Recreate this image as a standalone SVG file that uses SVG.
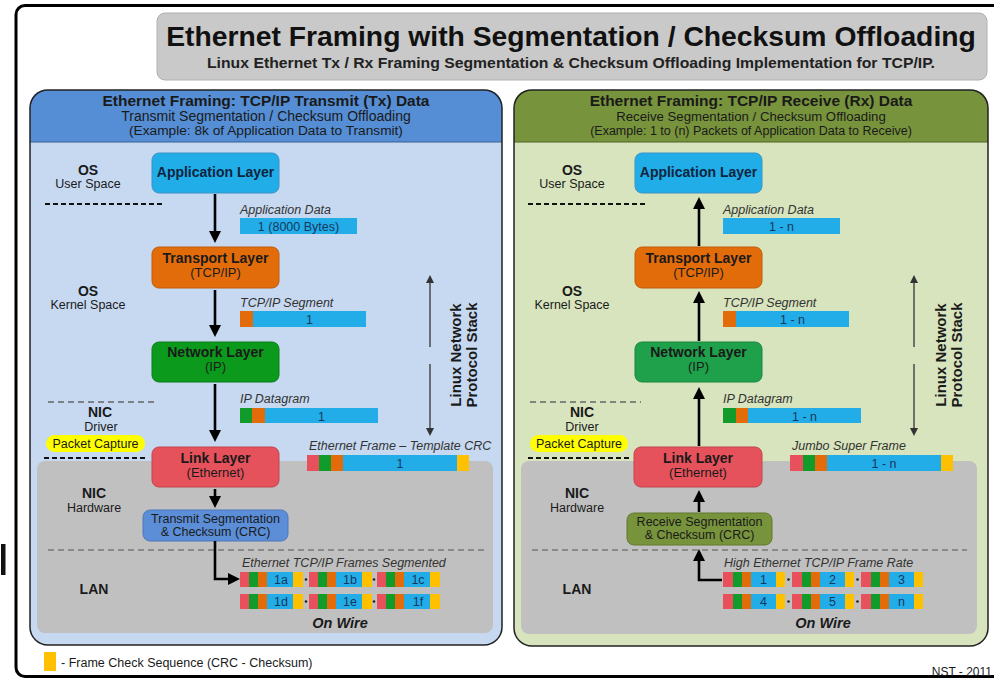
<svg xmlns="http://www.w3.org/2000/svg" xmlns:xlink="http://www.w3.org/1999/xlink" width="994" height="679" viewBox="0 0 994 679">
  <style>
    text { font-family: "Liberation Sans", Arial, sans-serif; fill: #1a1a1a; }
    .title { font-size: 28.3px; font-weight: bold; fill: #111; }
    .sub { font-size: 15.2px; font-weight: bold; fill: #222; }
    .hd1 { font-size: 15.5px; font-weight: bold; }
    .hd2 { font-size: 14px; }
    .hd3 { font-size: 12.5px; }
    .lb { font-size: 14px; font-weight: bold; }
    .ls { font-size: 12.5px; }
    .bx { font-size: 14px; font-weight: bold; }
    .bs { font-size: 13px; }
    .it { font-size: 12.5px; font-style: italic; fill: #333; }
    .bar { font-size: 12.5px; fill: #17375e; }
    .stk { font-size: 15px; font-weight: bold; }
    .wire { font-size: 14.5px; font-weight: bold; font-style: italic; }
    .mid { text-anchor: middle; }
    .cRed { fill: #e8505b; } .cGrn { fill: #119b2b; } .cOrg { fill: #e36c0a; }
    .cBlu { fill: #22ade8; } .cYel { fill: #ffc000; }
    .flow { stroke: #000; stroke-width: 2.6; fill: none; }
    .stack { stroke: #333; stroke-width: 1.3; fill: none; }
    .dashK { stroke: #111; stroke-width: 2; stroke-dasharray: 5 3; }
    .dashG { stroke: #666; stroke-width: 1.5; stroke-dasharray: 6 4; }
    .dashL { stroke: #555; stroke-width: 1; stroke-dasharray: 6 4; }
  </style>
  <defs>
    <marker id="ah" viewBox="0 0 12 12" refX="6" refY="6" markerWidth="12" markerHeight="12" markerUnits="userSpaceOnUse" orient="auto">
      <path d="M0,0 L12,6 L0,12 z" fill="#000"/>
    </marker>
    <marker id="sh" viewBox="0 0 8 8" refX="2" refY="4" markerWidth="8" markerHeight="8" markerUnits="userSpaceOnUse" orient="auto">
      <path d="M0,0 L8,4 L0,8 z" fill="#333"/>
    </marker>
    <!-- one on-wire frame: eth hdr, IP hdr, TCP hdr, payload, FCS -->
    <g id="frL">
      <rect class="cRed" x="0" y="0" width="9" height="15"/>
      <rect class="cGrn" x="9" y="0" width="9" height="15"/>
      <rect class="cOrg" x="18" y="0" width="9" height="15"/>
      <rect class="cBlu" x="27" y="0" width="26" height="15"/>
      <rect class="cYel" x="53" y="0" width="10" height="15"/>
    </g>
    <g id="frR">
      <rect class="cRed" x="0" y="0" width="10" height="15"/>
      <rect class="cGrn" x="10" y="0" width="9" height="15"/>
      <rect class="cOrg" x="19" y="0" width="9" height="15"/>
      <rect class="cBlu" x="28" y="0" width="25" height="15"/>
      <rect class="cYel" x="53" y="0" width="9" height="15"/>
    </g>
  </defs>

  <rect width="994" height="679" fill="#fff"/>
  <!-- outer frame -->
  <rect x="16" y="5.5" width="1000" height="671" rx="9" fill="#fff" stroke="#000" stroke-width="3"/>
  <rect x="1" y="544" width="4.5" height="31" fill="#111"/>

  <!-- title -->
  <g id="title">
    <rect x="157" y="13" width="830" height="67" rx="8" fill="#c9c9c9" stroke="#b0b0b0" stroke-width="1"/>
    <text class="title mid" x="571" y="46">Ethernet Framing with Segmentation / Checksum Offloading</text>
    <text class="sub mid" x="571" y="68" textLength="728" lengthAdjust="spacingAndGlyphs">Linux Ethernet Tx / Rx Framing Segmentation &amp; Checksum Offloading Implementation for TCP/IP.</text>
  </g>

  <!-- ===== Transmit panel ===== -->
  <g id="tx-panel">
    <rect x="30" y="90" width="472" height="555" rx="18" fill="#c6d9f1"/>
    <path d="M30,142 V108 Q30,90 48,90 H484 Q502,90 502,108 V142 Z" fill="#558ed5"/>
    <line x1="30" y1="142" x2="502" y2="142" stroke="#3a5f93" stroke-width="1"/>
    <rect x="37" y="461" width="456" height="172" rx="8" fill="#c0c0c0"/>
    <rect x="30" y="90" width="472" height="555" rx="18" fill="none" stroke="#222" stroke-width="1.5"/>
    <text class="hd1 mid" x="266" y="106">Ethernet Framing: TCP/IP Transmit (Tx) Data</text>
    <text class="hd2 mid" x="266" y="121">Transmit Segmentation / Checksum Offloading</text>
    <text class="hd3 mid" x="266" y="135" style="font-size:13.7px">(Example: 8k of Application Data to Transmit)</text>
  </g>

  <g id="tx-zones">
    <text class="lb mid" x="88" y="175">OS</text>
    <text class="ls mid" x="88" y="188">User Space</text>
    <line class="dashK" x1="45" y1="204" x2="162" y2="204"/>
    <text class="lb mid" x="88" y="296">OS</text>
    <text class="ls mid" x="88" y="309">Kernel Space</text>
    <line class="dashG" x1="48" y1="402" x2="158" y2="402"/>
    <text class="lb mid" x="100" y="417">NIC</text>
    <text class="ls mid" x="101" y="431">Driver</text>
    <rect x="46" y="435" width="99" height="17" rx="8.5" fill="#ffff00"/>
    <text class="ls mid" x="95.5" y="448">Packet Capture</text>
    <line class="dashK" x1="44" y1="458" x2="148" y2="458"/>
    <text class="lb mid" x="94" y="498">NIC</text>
    <text class="ls mid" x="94" y="512">Hardware</text>
    <line class="dashL" x1="48" y1="550" x2="484" y2="550"/>
    <text class="lb mid" x="94" y="594">LAN</text>
  </g>

  <g id="tx-app">
    <rect x="152" y="153" width="127" height="40" rx="7" fill="#20ade8" stroke="#3b93c6" stroke-width="1"/>
    <text class="bx mid" x="215.5" y="177" style="fill:#0f2540">Application Layer</text>
  </g>
  <g id="tx-transport">
    <rect x="152" y="247" width="127" height="41" rx="7" fill="#e36c0a" stroke="#c05a0a" stroke-width="1"/>
    <text class="bx mid" x="215.5" y="263">Transport Layer</text>
    <text class="bs mid" x="215.5" y="277">(TCP/IP)</text>
  </g>
  <g id="tx-network">
    <rect x="152" y="342" width="127" height="40" rx="7" fill="#0b9a1c" stroke="#0a7d18" stroke-width="1"/>
    <text class="bx mid" x="215.5" y="357">Network Layer</text>
    <text class="bs mid" x="215.5" y="371">(IP)</text>
  </g>
  <g id="tx-link">
    <rect x="152" y="447" width="127" height="40" rx="7" fill="#e6525b" stroke="#c1444c" stroke-width="1"/>
    <text class="bx mid" x="215.5" y="463">Link Layer</text>
    <text class="bs mid" x="215.5" y="477">(Ethernet)</text>
  </g>
  <g id="tx-offload">
    <rect x="143" y="510" width="145" height="31" rx="7" fill="#5b8ed7" stroke="#4a79bd" stroke-width="1"/>
    <text class="ls mid" x="215.5" y="523">Transmit Segmentation</text>
    <text class="ls mid" x="215.5" y="536">&amp; Checksum (CRC)</text>
  </g>

  <g id="tx-data">
    <text class="it" x="240" y="214">Application Data</text>
    <rect class="cBlu" x="240" y="218" width="117" height="16"/>
    <text class="bar mid" x="298.5" y="231">1 (8000 Bytes)</text>

    <text class="it" x="240" y="307">TCP/IP Segment</text>
    <rect class="cOrg" x="240" y="311" width="13" height="16"/>
    <rect class="cBlu" x="253" y="311" width="113" height="16"/>
    <text class="bar mid" x="309.5" y="324">1</text>

    <text class="it" x="240" y="403">IP Datagram</text>
    <rect class="cGrn" x="240" y="408" width="12" height="15"/>
    <rect class="cOrg" x="252" y="408" width="13" height="15"/>
    <rect class="cBlu" x="265" y="408" width="113" height="15"/>
    <text class="bar mid" x="321.5" y="420.5">1</text>

    <text class="it" x="309" y="450">Ethernet Frame – Template CRC</text>
    <rect class="cRed" x="307" y="455" width="12" height="16"/>
    <rect class="cGrn" x="319" y="455" width="12" height="16"/>
    <rect class="cOrg" x="331" y="455" width="12" height="16"/>
    <rect class="cBlu" x="343" y="455" width="114" height="16"/>
    <rect class="cYel" x="457" y="455" width="12" height="16"/>
    <text class="bar mid" x="400" y="468">1</text>
  </g>

  <g id="tx-wire">
    <text class="it" x="242" y="567">Ethernet TCP/IP Frames Segmented</text>
    <use xlink:href="#frL" x="240" y="572"/>
    <use xlink:href="#frL" x="309" y="572"/>
    <use xlink:href="#frL" x="377" y="572"/>
    <use xlink:href="#frL" x="240" y="594"/>
    <use xlink:href="#frL" x="309" y="594"/>
    <use xlink:href="#frL" x="377" y="594"/>
    <circle cx="306" cy="579.5" r="1.3" fill="#222"/>
    <circle cx="374" cy="579.5" r="1.3" fill="#222"/>
    <circle cx="306" cy="601.5" r="1.3" fill="#222"/>
    <circle cx="374" cy="601.5" r="1.3" fill="#222"/>
    <text class="bar mid" x="281" y="584">1a</text>
    <text class="bar mid" x="350" y="584">1b</text>
    <text class="bar mid" x="418" y="584">1c</text>
    <text class="bar mid" x="281" y="606">1d</text>
    <text class="bar mid" x="350" y="606">1e</text>
    <text class="bar mid" x="418" y="606">1f</text>
    <text class="wire mid" x="340" y="628">On Wire</text>
  </g>

  <g id="tx-stack">
    <text class="stk mid" transform="translate(461,355) rotate(-90)">Linux Network</text>
    <text class="stk mid" transform="translate(477,355) rotate(-90)">Protocol Stack</text>
  </g>

  <!-- ===== Receive panel ===== -->
  <g id="rx-panel">
    <rect x="514" y="90" width="474" height="556" rx="18" fill="#d7e4bd"/>
    <path d="M514,142 V108 Q514,90 532,90 H970 Q988,90 988,108 V142 Z" fill="#77933c"/>
    <line x1="514" y1="142" x2="988" y2="142" stroke="#4f6428" stroke-width="1"/>
    <rect x="521" y="461" width="456" height="173" rx="8" fill="#c0c0c0"/>
    <rect x="514" y="90" width="474" height="556" rx="18" fill="none" stroke="#222" stroke-width="1.5"/>
    <text class="hd1 mid" x="751" y="106">Ethernet Framing: TCP/IP Receive (Rx) Data</text>
    <text class="hd2 mid" x="751" y="121" style="font-size:13.2px">Receive Segmentation / Checksum Offloading</text>
    <text class="hd3 mid" x="751" y="135">(Example: 1 to (n) Packets of Application Data to Receive)</text>
  </g>

  <g id="rx-zones">
    <text class="lb mid" x="572" y="175">OS</text>
    <text class="ls mid" x="572" y="188">User Space</text>
    <line class="dashK" x1="528" y1="204" x2="645" y2="204"/>
    <text class="lb mid" x="572" y="296">OS</text>
    <text class="ls mid" x="572" y="309">Kernel Space</text>
    <line class="dashG" x1="530" y1="402" x2="641" y2="402"/>
    <text class="lb mid" x="582" y="417">NIC</text>
    <text class="ls mid" x="582" y="431">Driver</text>
    <rect x="530" y="435" width="98" height="17" rx="8.5" fill="#ffff00"/>
    <text class="ls mid" x="579" y="448">Packet Capture</text>
    <line class="dashK" x1="528" y1="458" x2="632" y2="458"/>
    <text class="lb mid" x="577" y="498">NIC</text>
    <text class="ls mid" x="577" y="512">Hardware</text>
    <line class="dashL" x1="532" y1="550" x2="967" y2="550"/>
    <text class="lb mid" x="577" y="594">LAN</text>
  </g>

  <g id="rx-app">
    <rect x="635" y="153" width="127" height="40" rx="7" fill="#20ade8" stroke="#3b93c6" stroke-width="1"/>
    <text class="bx mid" x="698.5" y="177" style="fill:#0f2540">Application Layer</text>
  </g>
  <g id="rx-transport">
    <rect x="635" y="247" width="127" height="41" rx="7" fill="#e36c0a" stroke="#c05a0a" stroke-width="1"/>
    <text class="bx mid" x="698.5" y="263">Transport Layer</text>
    <text class="bs mid" x="698.5" y="277">(TCP/IP)</text>
  </g>
  <g id="rx-network">
    <rect x="635" y="342" width="127" height="40" rx="7" fill="#1fa04a" stroke="#198540" stroke-width="1"/>
    <text class="bx mid" x="698.5" y="357">Network Layer</text>
    <text class="bs mid" x="698.5" y="371">(IP)</text>
  </g>
  <g id="rx-link">
    <rect x="634" y="447" width="128" height="40" rx="7" fill="#e6525b" stroke="#c1444c" stroke-width="1"/>
    <text class="bx mid" x="698" y="463">Link Layer</text>
    <text class="bs mid" x="698" y="477">(Ethernet)</text>
  </g>
  <g id="rx-offload">
    <rect x="627" y="513" width="145" height="32" rx="7" fill="#77933c" stroke="#62792f" stroke-width="1"/>
    <text class="ls mid" x="699.5" y="526">Receive Segmentation</text>
    <text class="ls mid" x="699.5" y="539">&amp; Checksum (CRC)</text>
  </g>

  <g id="rx-data">
    <text class="it" x="723" y="214">Application Data</text>
    <rect class="cBlu" x="723" y="218" width="117" height="16"/>
    <text class="bar mid" x="781.5" y="231">1 - n</text>

    <text class="it" x="723" y="307">TCP/IP Segment</text>
    <rect class="cOrg" x="723" y="311" width="13" height="16"/>
    <rect class="cBlu" x="736" y="311" width="113" height="16"/>
    <text class="bar mid" x="792.5" y="324">1 - n</text>

    <text class="it" x="723" y="403">IP Datagram</text>
    <rect class="cGrn" x="723" y="408" width="13" height="15"/>
    <rect class="cOrg" x="736" y="408" width="12" height="15"/>
    <rect class="cBlu" x="748" y="408" width="113" height="15"/>
    <text class="bar mid" x="804.5" y="420.5">1 - n</text>

    <text class="it" x="792" y="450">Jumbo Super Frame</text>
    <rect class="cRed" x="790" y="455" width="13" height="16"/>
    <rect class="cGrn" x="803" y="455" width="12" height="16"/>
    <rect class="cOrg" x="815" y="455" width="12" height="16"/>
    <rect class="cBlu" x="827" y="455" width="114" height="16"/>
    <rect class="cYel" x="941" y="455" width="12" height="16"/>
    <text class="bar mid" x="884" y="468">1 - n</text>
  </g>

  <g id="rx-wire">
    <text class="it" x="724" y="567">High Ethernet TCP/IP Frame Rate</text>
    <use xlink:href="#frR" x="723" y="572"/>
    <use xlink:href="#frR" x="792" y="572"/>
    <use xlink:href="#frR" x="861" y="572"/>
    <use xlink:href="#frR" x="723" y="594"/>
    <use xlink:href="#frR" x="792" y="594"/>
    <use xlink:href="#frR" x="861" y="594"/>
    <circle cx="788.5" cy="579.5" r="1.3" fill="#222"/>
    <circle cx="857.5" cy="579.5" r="1.3" fill="#222"/>
    <circle cx="788.5" cy="601.5" r="1.3" fill="#222"/>
    <circle cx="857.5" cy="601.5" r="1.3" fill="#222"/>
    <text class="bar mid" x="763.5" y="584">1</text>
    <text class="bar mid" x="832.5" y="584">2</text>
    <text class="bar mid" x="901.5" y="584">3</text>
    <text class="bar mid" x="763.5" y="606">4</text>
    <text class="bar mid" x="832.5" y="606">5</text>
    <text class="bar mid" x="901.5" y="606">n</text>
    <text class="wire mid" x="823" y="628">On Wire</text>
  </g>

  <g id="rx-stack">
    <text class="stk mid" transform="translate(946,355) rotate(-90)">Linux Network</text>
    <text class="stk mid" transform="translate(962,355) rotate(-90)">Protocol Stack</text>
  </g>

  <!-- connectors -->
  <g id="connectors">
    <line class="flow" x1="215" y1="194" x2="215" y2="237" marker-end="url(#ah)"/>
    <line class="flow" x1="215" y1="290" x2="215" y2="331" marker-end="url(#ah)"/>
    <line class="flow" x1="215" y1="384" x2="215" y2="436" marker-end="url(#ah)"/>
    <line class="flow" x1="215" y1="489" x2="215" y2="502" marker-end="url(#ah)"/>
    <polyline class="flow" points="215,541 215,579 234,579" marker-end="url(#ah)"/>

    <line class="flow" x1="699" y1="246" x2="699" y2="203" marker-end="url(#ah)"/>
    <line class="flow" x1="699" y1="341" x2="699" y2="297" marker-end="url(#ah)"/>
    <line class="flow" x1="699" y1="446" x2="699" y2="393" marker-end="url(#ah)"/>
    <line class="flow" x1="699" y1="512" x2="699" y2="496" marker-end="url(#ah)"/>
    <polyline class="flow" points="722,580 699,580 699,555" marker-end="url(#ah)"/>

    <line class="stack" x1="430" y1="347" x2="430" y2="281" marker-end="url(#sh)"/>
    <line class="stack" x1="430" y1="364" x2="430" y2="430" marker-end="url(#sh)"/>
    <line class="stack" x1="914" y1="347" x2="914" y2="281" marker-end="url(#sh)"/>
    <line class="stack" x1="914" y1="364" x2="914" y2="430" marker-end="url(#sh)"/>
  </g>

  <!-- legend and credit -->
  <g id="legend">
    <rect class="cYel" x="44" y="652" width="12" height="19"/>
    <text class="ls" x="61" y="667">- Frame Check Sequence (CRC - Checksum)</text>
    <text class="ls" x="992" y="676" text-anchor="end" style="font-size:12px">NST - 2011</text>
  </g>
</svg>
